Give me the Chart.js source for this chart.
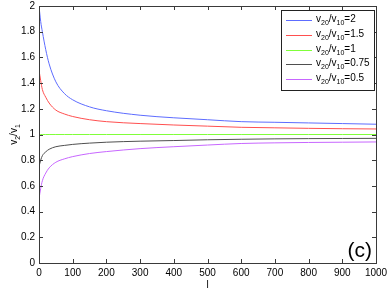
<!DOCTYPE html>
<html>
<head>
<meta charset="utf-8">
<script src="https://cdn.jsdelivr.net/npm/chart.js@4.4.0/dist/chart.umd.min.js"></script>
<style>
html,body{margin:0;padding:0;background:#fff;}
#wrap{width:388px;height:292px;position:relative;}
</style>
</head>
<body>
<div id="wrap"><canvas id="c"></canvas></div>
<script>
// ---- data ----
const lValues = [0,5,10,20,30,50,75,100,150,200,300,400,500,600,700,800,900,1000];
const ratio2    = [2.0,1.88,1.80,1.66,1.55,1.41,1.32,1.27,1.215,1.185,1.15,1.13,1.115,1.10,1.095,1.09,1.085,1.08];
const ratio15   = [1.5,1.42,1.35,1.29,1.245,1.19,1.16,1.14,1.115,1.10,1.085,1.074,1.065,1.056,1.052,1.048,1.045,1.043];
const ratio1    = [1,1,1,1,1,1,1,1,1,1,1,1,1,1,1,1,1,1];
const ratio075  = [0.75,0.80,0.835,0.865,0.885,0.905,0.915,0.923,0.933,0.94,0.948,0.953,0.959,0.963,0.966,0.968,0.969,0.970];
const ratio05   = [0.5,0.58,0.64,0.70,0.74,0.784,0.81,0.828,0.852,0.867,0.89,0.905,0.918,0.93,0.935,0.938,0.940,0.942];
const legendRatios = ['2','1.5','1','0.75','0.5'];
const xTicks = [0,100,200,300,400,500,600,700,800,900,1000];
const yTicks = [0,0.2,0.4,0.6,0.8,1,1.2,1.4,1.6,1.8,2];
const panelLabel = '(c)';

const colors = ['#5d6cff','#ff4f4f','#80ff3a','#4f4f4f','#c766ff'];
const seriesList = [ratio2, ratio15, ratio1, ratio075, ratio05];

const datasets = seriesList.map((s, i) => ({
  label: 'v20/v10=' + legendRatios[i],
  data: lValues.map((l, j) => ({x: l, y: s[j]})),
  borderColor: colors[i],
  borderWidth: 1,
  pointRadius: 0,
  fill: false,
  cubicInterpolationMode: 'monotone',
  tension: 0.4
}));

const FONT = '"Liberation Sans", Arial, sans-serif';

function drawSub(ctx, parts, x, y, size) {
  let cx = x;
  for (const [t, sub] of parts) {
    ctx.font = (sub ? Math.round(size*0.72) : size) + 'px ' + FONT;
    ctx.fillText(t, cx, sub ? y + size*0.3 : y);
    cx += ctx.measureText(t).width;
  }
  return cx - x;
}
function measureSub(ctx, parts, size) {
  let w = 0;
  for (const [t, sub] of parts) {
    ctx.font = (sub ? Math.round(size*0.72) : size) + 'px ' + FONT;
    w += ctx.measureText(t).width;
  }
  return w;
}

const framePlugin = {
  id: 'frame',
  afterDatasetsDraw(chart) {
    const ctx = chart.ctx;
    const a = chart.chartArea;
    const xs = chart.scales.x, ys = chart.scales.y;
    ctx.save();
    ctx.strokeStyle = '#3a3a3a';
    ctx.lineWidth = 1;
    ctx.strokeRect(Math.round(a.left)+0.5, Math.round(a.top)+0.5, Math.round(a.right-a.left), Math.round(a.bottom-a.top));
    ctx.beginPath();
    const tl = 4;
    for (const v of xTicks) {
      const px = Math.round(xs.getPixelForValue(v)) + 0.5;
      ctx.moveTo(px, a.bottom); ctx.lineTo(px, a.bottom - tl);
      ctx.moveTo(px, a.top); ctx.lineTo(px, a.top + tl);
    }
    for (const v of yTicks) {
      const py = Math.round(ys.getPixelForValue(v)) + 0.5;
      ctx.moveTo(a.left, py); ctx.lineTo(a.left + tl, py);
      ctx.moveTo(a.right, py); ctx.lineTo(a.right - tl, py);
    }
    ctx.stroke();

    // legend box
    const bx = a.right - 95, by = a.top + 4, bw = 93, bh = 80;
    ctx.fillStyle = '#fff';
    ctx.fillRect(bx, by, bw, bh);
    ctx.strokeStyle = '#222';
    ctx.strokeRect(Math.round(bx)+0.5, Math.round(by)+0.5, bw, bh);
    ctx.textBaseline = 'alphabetic';
    ctx.textAlign = 'left';
    for (let i = 0; i < legendRatios.length; i++) {
      const ry = by + 10 + i * 14.8;
      ctx.strokeStyle = colors[i];
      ctx.lineWidth = 1;
      ctx.beginPath();
      ctx.moveTo(bx + 5, Math.round(ry)+0.5);
      ctx.lineTo(bx + 31, Math.round(ry)+0.5);
      ctx.stroke();
      ctx.fillStyle = '#000';
      drawSub(ctx, [['v',0],['20',1],['/v',0],['10',1],['=' + legendRatios[i],0]], bx + 35, ry + 2, 10);
    }

    // panel label
    ctx.fillStyle = '#000';
    ctx.font = '21px ' + FONT;
    ctx.textAlign = 'right';
    ctx.fillText(panelLabel, a.right - 4, a.bottom - 6);

    // x title
    ctx.font = '10px ' + FONT;
    ctx.textAlign = 'center';
    ctx.fillText('l', (a.left + a.right) / 2, 288);

    // y title
    ctx.save();
    ctx.translate(17, (a.top + a.bottom) / 2);
    ctx.rotate(-Math.PI / 2);
    ctx.textAlign = 'left';
    const parts = [['v',0],['2',1],['/v',0],['1',1]];
    const w = measureSub(ctx, parts, 10);
    drawSub(ctx, parts, -w / 2, 0, 10);
    ctx.restore();
    ctx.restore();
  }
};

new Chart(document.getElementById('c'), {
  type: 'line',
  data: { datasets },
  options: {
    responsive: true,
    maintainAspectRatio: false,
    animation: false,
    layout: { padding: { top: 6, right: 12, left: 0, bottom: 0 } },
    plugins: { legend: { display: false }, tooltip: { enabled: false } },
    scales: {
      x: {
        type: 'linear', min: 0, max: 1000,
        grid: { display: false, drawTicks: false },
        border: { display: false },
        ticks: { stepSize: 100, color: '#000', font: { family: FONT, size: 10 }, padding: 4, maxRotation: 0, autoSkip: false,
          callback: v => String(v) },
        afterFit(s) { s.height = 29; s.paddingRight = 0; s.paddingLeft = 0; }
      },
      y: {
        type: 'linear', min: 0, max: 2,
        grid: { display: false, drawTicks: false },
        border: { display: false },
        ticks: { stepSize: 0.2, color: '#000', font: { family: FONT, size: 10 }, padding: 4,
          callback: v => String(Number(v.toFixed(1))) },
        afterFit(s) { s.width = 39; s.paddingTop = 0; s.paddingBottom = 0; }
      }
    }
  },
  plugins: [framePlugin]
});
</script>
</body>
</html>
